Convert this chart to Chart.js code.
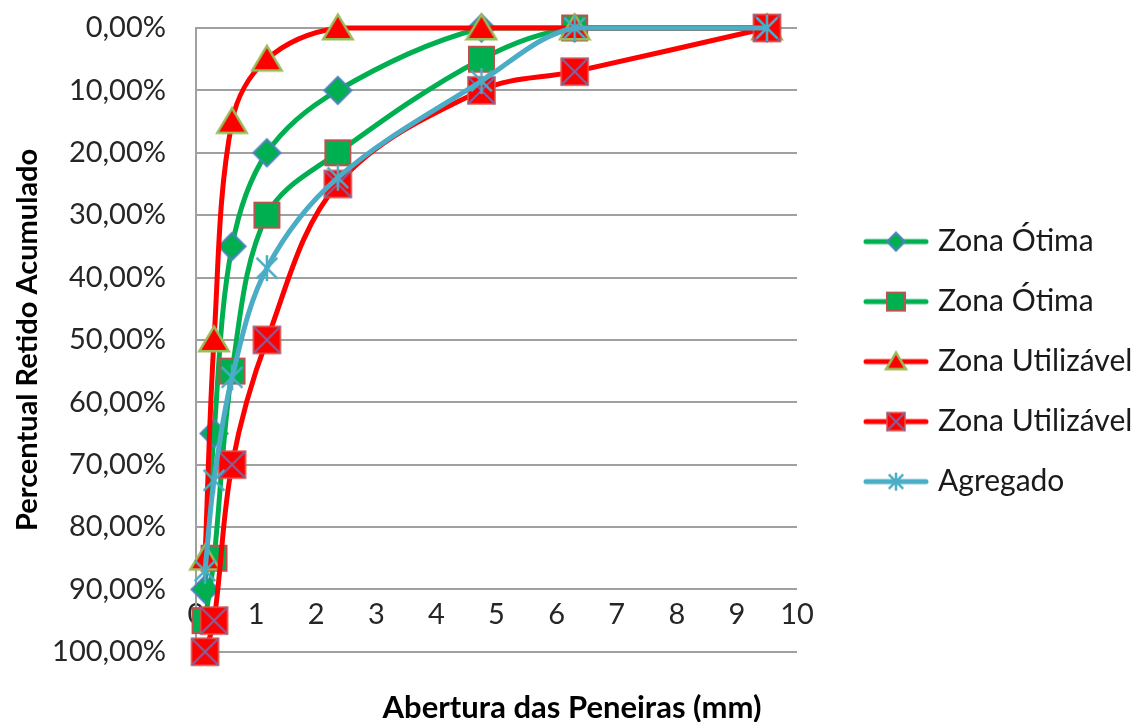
<!DOCTYPE html>
<html>
<head>
<meta charset="utf-8">
<script src="https://cdn.jsdelivr.net/npm/chart.js@4.4.1/dist/chart.umd.min.js"></script>
<style>
    html, body { margin: 0; padding: 0; background: #fff; }
    #wrap { width: 1134px; height: 722px; }
</style>
</head>
<body>
<div id="wrap"><canvas id="granulometria"></canvas></div>
<script>
// aberturas das peneiras (mm) e % retido acumulado
const aberturas = [0.15, 0.3, 0.6, 1.18, 2.36, 4.75, 6.3, 9.5];
const otimaInferior = [90, 65, 35, 20, 10, 0, 0, 0];
const otimaSuperior = [95, 85, 55, 30, 20, 5, 0, 0];
const utilizavelInferior = [85, 50, 15, 5, 0, 0, 0, 0];
const utilizavelSuperior = [100, 95, 70, 50, 25, 10, 7, 0];
const agregado = [87, 72.5, 56, 38.5, 24, 8.5, 0, 0];
const nomes = ['Zona Ótima', 'Zona Ótima', 'Zona Utilizável', 'Zona Utilizável', 'Agregado'];
const xTicks = [0, 1, 2, 3, 4, 5, 6, 7, 8, 9, 10];

const VERDE = '#00B050';
const VERMELHO = '#FF0000';
const AZUL = '#4BACC6';
const FONTE = 'Lato, "Open Sans", sans-serif';

// desenha o marcador no contexto g, centrado em (cx, cy), com tamanho s
const drawMarker = (g, kind, cx, cy, s) => {
    const h = s / 2;
    g.lineJoin = 'miter';
    if (kind === 'diamond') {
        g.beginPath();
        g.moveTo(cx, cy - h); g.lineTo(cx + h, cy); g.lineTo(cx, cy + h); g.lineTo(cx - h, cy);
        g.closePath();
        g.fillStyle = VERDE; g.fill();
        g.strokeStyle = '#4F81BD'; g.lineWidth = 2; g.stroke();
    } else if (kind === 'square') {
        g.fillStyle = VERDE;
        g.fillRect(cx - h, cy - h, s, s);
        g.strokeStyle = '#C0504D'; g.lineWidth = 2;
        g.strokeRect(cx - h, cy - h, s, s);
    } else if (kind === 'triangle') {
        g.beginPath();
        g.moveTo(cx, cy - h * 0.95); g.lineTo(cx + h * 1.05, cy + h * 0.8); g.lineTo(cx - h * 1.05, cy + h * 0.8);
        g.closePath();
        g.fillStyle = VERMELHO; g.fill();
        g.strokeStyle = '#9BBB59'; g.lineWidth = 2.5; g.stroke();
    } else if (kind === 'squareX') {
        g.fillStyle = VERMELHO;
        g.fillRect(cx - h, cy - h, s, s);
        g.strokeStyle = '#D9534F'; g.lineWidth = 1.5;
        g.strokeRect(cx - h, cy - h, s, s);
        g.beginPath();
        g.moveTo(cx - h, cy - h); g.lineTo(cx + h, cy + h);
        g.moveTo(cx + h, cy - h); g.lineTo(cx - h, cy + h);
        g.strokeStyle = '#8064A2'; g.lineWidth = 2; g.stroke();
    } else if (kind === 'star') {
        const d = h * 0.8;
        g.beginPath();
        g.moveTo(cx, cy - h); g.lineTo(cx, cy + h);
        g.moveTo(cx - d, cy - d); g.lineTo(cx + d, cy + d);
        g.moveTo(cx + d, cy - d); g.lineTo(cx - d, cy + d);
        g.strokeStyle = AZUL; g.lineWidth = 2.5; g.stroke();
    }
};

const makePointImage = (kind, s) => {
    const c = document.createElement('canvas');
    c.width = s + 6; c.height = s + 6;
    drawMarker(c.getContext('2d'), kind, c.width / 2, c.height / 2, s);
    return c;
};

// icone da legenda: linha + marcador
const LEG_W = 108;
const makeLegendIcon = (kind, cor) => {
    const c = document.createElement('canvas');
    c.width = LEG_W; c.height = 30;
    const g = c.getContext('2d');
    g.beginPath();
    g.moveTo(LEG_W - 63, 15); g.lineTo(LEG_W - 3, 15);
    g.strokeStyle = cor; g.lineWidth = 5; g.lineCap = 'round'; g.stroke();
    g.lineCap = 'butt';
    drawMarker(g, kind, LEG_W - 33, 15, kind === 'triangle' ? 19 : 18);
    return c;
};

const estilos = [
    {kind: 'diamond', cor: VERDE, size: 27},
    {kind: 'square', cor: VERDE, size: 25},
    {kind: 'triangle', cor: VERMELHO, size: 28},
    {kind: 'squareX', cor: VERMELHO, size: 27},
    {kind: 'star', cor: AZUL, size: 26}
];
const valores = [otimaInferior, otimaSuperior, utilizavelInferior, utilizavelSuperior, agregado];

const datasets = valores.map((ys, i) => ({
    label: nomes[i],
    data: aberturas.map((x, j) => ({x: x, y: ys[j]})),
    borderColor: estilos[i].cor,
    backgroundColor: estilos[i].cor,
    borderWidth: 5,
    tension: 0.35,
    pointStyle: makePointImage(estilos[i].kind, estilos[i].size),
    pointRadius: 12,
    clip: false,
    order: valores.length - i
}));

const legendIcons = estilos.map(e => makeLegendIcon(e.kind, e.cor));

const ctx = document.getElementById('granulometria');
const chart = new Chart(ctx, {
    type: 'line',
    data: {datasets: datasets},
    options: {
        responsive: true,
        maintainAspectRatio: false,
        animation: false,
        events: [],
        layout: {
            padding: {top: 28, left: 10, right: 0, bottom: 0}
        },
        plugins: {
            legend: {
                position: 'right',
                align: 'center',
                fullSize: false,
                maxWidth: 337,
                title: {display: true, text: '', padding: {top: 29, bottom: 0}},
                labels: {
                    usePointStyle: true,
                    pointStyleWidth: LEG_W - 12,
                    padding: 30,
                    color: '#1a1a1a',
                    font: {family: FONTE, size: 30},
                    generateLabels: () => nomes.map((nome, i) => ({
                        text: nome,
                        pointStyle: legendIcons[i],
                        fillStyle: 'transparent',
                        strokeStyle: 'transparent',
                        fontColor: '#1a1a1a',
                        lineWidth: 0,
                        hidden: false,
                        datasetIndex: i
                    }))
                }
            },
            title: {
                display: true,
                position: 'bottom',
                text: 'Abertura das Peneiras (mm)',
                color: '#000',
                font: {family: FONTE, size: 31, weight: 'bold'},
                padding: {top: 38, bottom: -5}
            },
            tooltip: {enabled: false}
        },
        scales: {
            x: {
                type: 'linear',
                position: {y: 90},
                min: 0,
                max: 10,
                afterBuildTicks: (scale) => {
                    scale.ticks = xTicks.map(v => ({value: v}));
                },
                grid: {display: false},
                border: {display: false},
                ticks: {
                    color: '#262626',
                    padding: 0,
                    font: {family: FONTE, size: 29},
                    maxRotation: 0
                }
            },
            y: {
                type: 'linear',
                reverse: true,
                min: 0,
                max: 100,
                afterFit: (scale) => {
                    scale.width = 186;
                },
                grid: {color: '#A0A0A0', lineWidth: 2, drawTicks: true, tickLength: 20, tickColor: 'rgba(0,0,0,0)'},
                border: {display: true, color: '#A0A0A0', width: 2},
                ticks: {
                    stepSize: 10,
                    color: '#262626',
                    padding: 10,
                    font: {family: FONTE, size: 29},
                    callback: (v) => v.toFixed(2).replace('.', ',') + '%'
                },
                title: {
                    display: true,
                    text: 'Percentual Retido Acumulado',
                    color: '#000',
                    font: {family: FONTE, size: 29, weight: 'bold'},
                    padding: {top: 0, bottom: 0}
                }
            }
        }
    }
});
</script>
</body>
</html>
